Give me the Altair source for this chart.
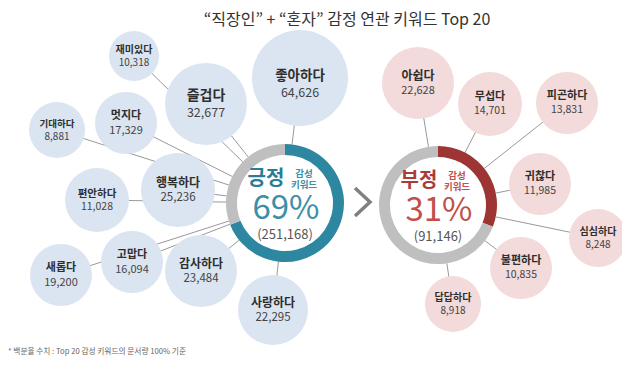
import altair as alt
import pandas as pd
import math

# ---------------- data ----------------
title_text = "“직장인” + “혼자” 감정 연관 키워드 Top 20"
note_text = "* 백분율 수치 : Top 20 감성 키워드의 문서량 100% 기준"

pos_words = ["좋아하다", "즐겁다", "행복하다", "감사하다", "사랑하다", "새롭다",
             "멋지다", "고맙다", "편안하다", "재미있다", "기대하다"]
pos_counts = [64626, 32677, 25236, 23484, 22295, 19200, 17329, 16094, 11028, 10318, 8881]

neg_words = ["아쉽다", "무섭다", "피곤하다", "귀찮다", "불편하다", "답답하다", "심심하다"]
neg_counts = [22628, 14701, 13831, 11985, 10835, 8918, 8248]

group_labels = ["긍정", "부정"]
group_pcts = [69, 31]
group_totals = [251168, 91146]
sub_label = ["감성", "키워드"]

# ---------------- layout (pixel frame of the 630x365 picture) ----------------
# (cx, cy, radius, name font size, value font size, text shift)
pos_layout = [(300, 78, 48, 13.5, 12.5, 6), (206, 104, 41, 14, 12.5, 0), (178, 190, 37, 12, 11.5, 0),
              (201, 271, 36, 12, 11.5, 0), (273, 310, 35, 12, 11.5, 0), (61, 275, 31, 11, 11, 0),
              (126, 123, 31, 11, 11, 0), (132, 262, 31, 11, 11, 0), (97, 200, 32, 10.5, 10.5, 0),
              (134, 56, 25, 10, 10, 0), (57, 130, 28, 9.5, 10, 0)]
neg_layout = [(418, 83, 36, 12, 11, 0), (490, 104, 32, 11, 10.5, 0), (567, 103, 31, 11, 10.5, 0),
              (540, 184, 31, 11, 10.5, 0), (521, 268, 31, 11, 10.5, 0), (453, 304, 28, 10, 10, 0),
              (598, 238, 29, 10, 10, 0)]
donut_centers = [(285, 203), (438, 205)]
R_OUT, R_IN = 59, 48

FONT = "Noto Sans CJK KR"
POS_FILL, NEG_FILL = "#dbe4f1", "#f3dadb"
RING = ["#2e87a0", "#9c3533"]
RING_GRAY = "#bfbfbf"
HEAD = ["#2c7d94", "#a93b3b"]
PCT = ["#3a8fa8", "#c24f4c"]

W, H = 614, 349
xs = alt.Scale(domain=[8, 8 + W], nice=False, zero=False)
ys = alt.Scale(domain=[8, 8 + H], nice=False, zero=False, reverse=True)
X = lambda f="x": alt.X(f"{f}:Q", scale=xs, axis=None)
Y = lambda f="y": alt.Y(f"{f}:Q", scale=ys, axis=None)

# bubbles table
rows = []
for gi, (words, counts, lay, fill) in enumerate([(pos_words, pos_counts, pos_layout, POS_FILL),
                                                  (neg_words, neg_counts, neg_layout, NEG_FILL)]):
    dcx, dcy = donut_centers[gi]
    for w, c, (cx, cy, r, fn, fv, sh) in zip(words, counts, lay):
        rows.append(dict(word=w, count=c, x=cx, y=cy, d2=(2 * r) ** 2, fill=fill,
                         fn=fn, fv=fv, yn=cy + sh - 0.6 * fn, yv=cy + sh + 0.6 * fv + 1,
                         x2=dcx, y2=dcy))
bub = pd.DataFrame(rows)

rules = alt.Chart(bub).mark_rule(color="#999999", strokeWidth=1).encode(
    x=X(), y=Y(), x2="x2:Q", y2="y2:Q")

circles = alt.Chart(bub).mark_circle(opacity=1).encode(
    x=X(), y=Y(), size=alt.Size("d2:Q", scale=None), color=alt.Color("fill:N", scale=None))

names = alt.Chart(bub).mark_text(font=FONT, fontWeight="bold", color="#2e2e2e", baseline="middle").encode(
    x=X(), y=Y("yn"), text="word:N", size=alt.Size("fn:Q", scale=None))
values = alt.Chart(bub).mark_text(font=FONT, color="#444444", baseline="middle").encode(
    x=X(), y=Y("yv"), text=alt.Text("count:Q", format=","), size=alt.Size("fv:Q", scale=None))

# donuts
donut_df = pd.DataFrame([dict(x=cx, y=cy) for cx, cy in donut_centers])
disc = alt.Chart(donut_df).mark_circle(color="white", opacity=1).encode(
    x=X(), y=Y(), size=alt.value((2 * R_OUT) ** 2))

arc_rows = []
for gi, p in enumerate(group_pcts):
    cx, cy = donut_centers[gi]
    a = 2 * math.pi * p / 100
    arc_rows.append(dict(x=cx, y=cy, t0=0, t1=a, col=RING[gi]))
    arc_rows.append(dict(x=cx, y=cy, t0=a, t1=2 * math.pi, col=RING_GRAY))
arcs = alt.Chart(pd.DataFrame(arc_rows)).mark_arc(innerRadius=R_IN, outerRadius=R_OUT).encode(
    x=X(), y=Y(), theta=alt.Theta("t0:Q", scale=None), theta2="t1:Q",
    color=alt.Color("col:N", scale=None))

txt_rows = []
for gi in range(2):
    cx, cy = donut_centers[gi]
    txt_rows.append(dict(x=cx - 19, y=cy - 24, t=group_labels[gi], kind="head", col=HEAD[gi]))
    txt_rows.append(dict(x=cx + 19, y=cy - 29, t=sub_label[0], kind="sub", col=PCT[gi]))
    txt_rows.append(dict(x=cx + 19, y=cy - 18, t=sub_label[1], kind="sub", col=PCT[gi]))
    txt_rows.append(dict(x=cx + 1, y=cy + 6, t=f"{group_pcts[gi]}%", kind="pct", col=PCT[gi]))
    txt_rows.append(dict(x=cx, y=cy + 32, t=f"({group_totals[gi]:,})", kind="tot", col="#555555"))
tdf = pd.DataFrame(txt_rows)

def dtext(kind, **kw):
    return alt.Chart(tdf).transform_filter(alt.datum.kind == kind).mark_text(
        font=FONT, baseline="middle", **kw).encode(
        x=X(), y=Y(), text="t:N", color=alt.Color("col:N", scale=None))

heads = dtext("head", fontSize=20, fontWeight="bold")
subs = dtext("sub", fontSize=9.5, fontWeight="bold")
pcts = dtext("pct", fontSize=33)
tots = dtext("tot", fontSize=13)

# chevron between donuts
chev = pd.DataFrame(dict(x=[355, 370, 355], y=[188, 202, 216], o=[0, 1, 2]))
chevron = alt.Chart(chev).mark_line(color="#808080", strokeWidth=3.5, strokeJoin="miter").encode(
    x=X(), y=Y(), order="o:Q")

title = alt.Chart(pd.DataFrame(dict(x=[347], y=[20], t=[title_text]))).mark_text(
    font=FONT, fontSize=16, color="#333333", baseline="middle").encode(x=X(), y=Y(), text="t:N")
note = alt.Chart(pd.DataFrame(dict(x=[8], y=[352], t=[note_text]))).mark_text(
    font=FONT, fontSize=7.7, color="#666666", align="left", baseline="middle").encode(
    x=X(), y=Y(), text="t:N")

chart = alt.layer(rules, circles, disc, arcs, names, values, heads, subs, pcts, tots,
                  chevron, title, note).properties(
    width=W, height=H, padding=0, autosize=alt.AutoSizeParams(type="none"),
    background="white").configure_view(strokeWidth=0)

chart.save("out.html", embed_options={"renderer": "svg", "actions": False})
